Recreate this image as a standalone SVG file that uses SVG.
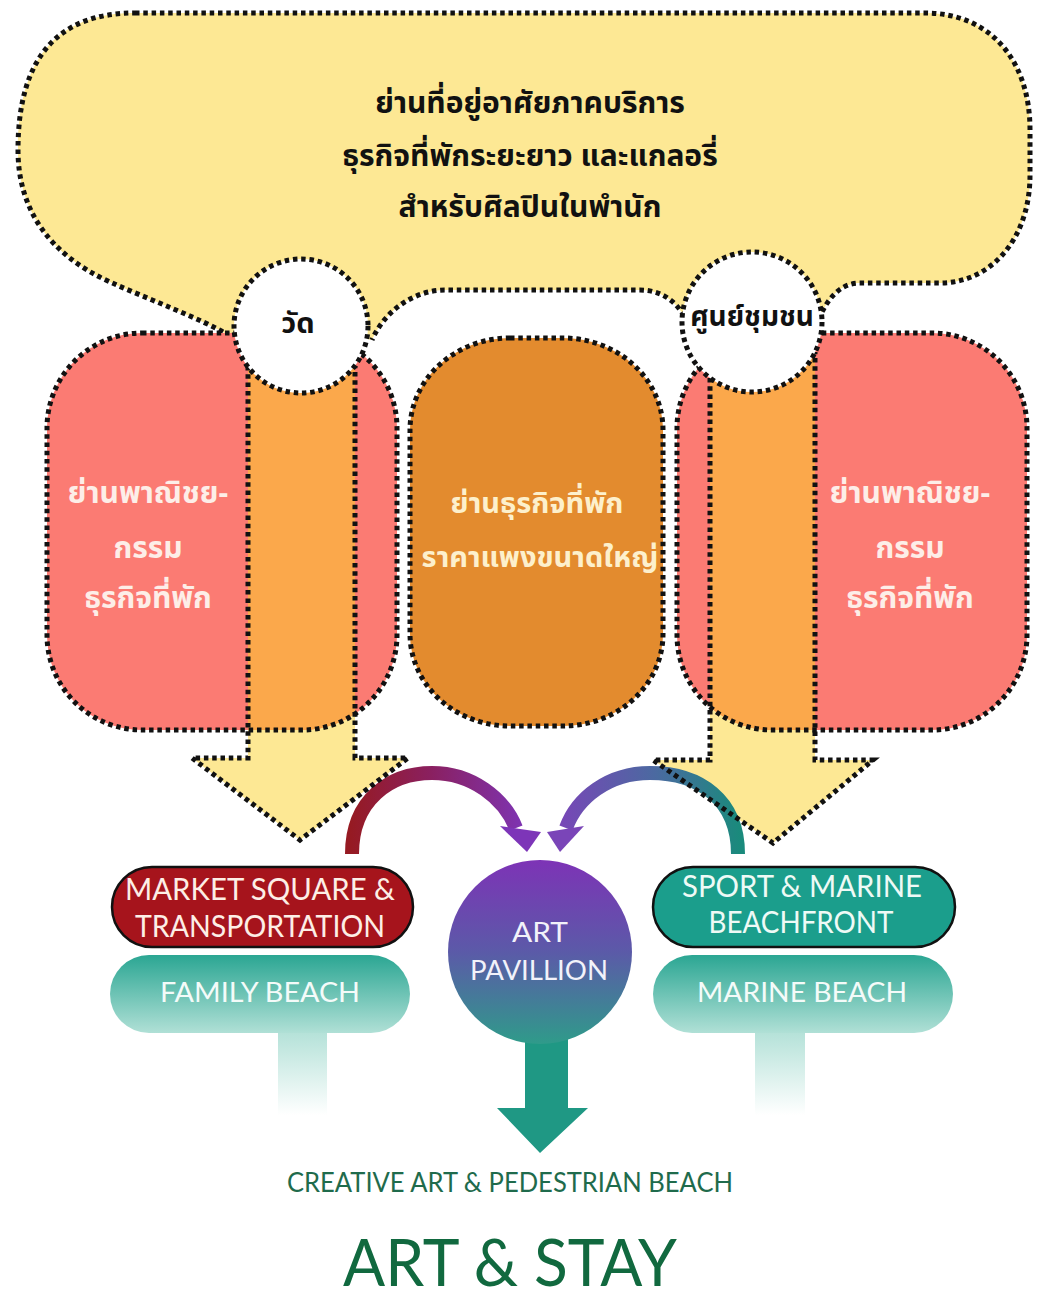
<svg xmlns="http://www.w3.org/2000/svg" width="1045" height="1300" viewBox="0 0 1045 1300">
<style>
.dot{fill:none;stroke:#111;stroke-width:5;stroke-dasharray:4.5 3.8}
.th{font-family:'Noto Sans Thai','Noto Sans','DejaVu Sans',sans-serif;font-weight:bold;text-anchor:middle}
.en{font-family:Lato,'Open Sans',sans-serif;text-anchor:middle}
</style>
<defs>
<clipPath id="clipL"><rect x="47" y="333" width="350" height="397" rx="95"/></clipPath>
<clipPath id="clipR"><rect x="677" y="333" width="350" height="397" rx="95"/></clipPath>
<linearGradient id="gArcL" gradientUnits="userSpaceOnUse" x1="350" y1="0" x2="530" y2="0"><stop offset="0" stop-color="#961a22"/><stop offset="0.45" stop-color="#8a2060"/><stop offset="1" stop-color="#7d35b8"/></linearGradient>
<linearGradient id="gArcR" gradientUnits="userSpaceOnUse" x1="740" y1="0" x2="555" y2="0"><stop offset="0" stop-color="#1a8a7c"/><stop offset="0.45" stop-color="#4a6aa0"/><stop offset="1" stop-color="#7a45b8"/></linearGradient>
<linearGradient id="gPill" x1="0" y1="0" x2="0" y2="1"><stop offset="0" stop-color="#2ba693"/><stop offset="1" stop-color="#b0e0d6"/></linearGradient>
<linearGradient id="gStem" x1="0" y1="0" x2="0" y2="1"><stop offset="0" stop-color="#aedfd5"/><stop offset="1" stop-color="#ffffff"/></linearGradient>
<linearGradient id="gArt" x1="0" y1="0" x2="0" y2="1"><stop offset="0" stop-color="#7d33b6"/><stop offset="0.5" stop-color="#5b5aa8"/><stop offset="1" stop-color="#2f9b8a"/></linearGradient>
</defs>

<g id="residential-zone">
<path d="M135 13 L925 13 C990 13 1030 60 1030 130 L1030 175 C1030 240 990 283 940 283 L860 283 C845 283 832 292 822 312 L752 322 L684 316 C675 300 660 290 640 290 L445 290 C415 290 385 310 372 340 L301 326 L230 336 C200 318 150 300 110 282 C50 255 18 210 18 150 C18 55 60 13 135 13 Z" fill="#fde894"/>
<path class="dot" d="M135 13 L925 13 C990 13 1030 60 1030 130 L1030 175 C1030 240 990 283 940 283 L860 283 C845 283 832 292 822 312 M684 316 C675 300 660 290 640 290 L445 290 C415 290 385 310 372 340 M230 336 C200 318 150 300 110 282 C50 255 18 210 18 150 C18 55 60 13 135 13"/>
<text class="th" x="530" y="113" font-size="30" fill="#111">ย่านที่อยู่อาศัยภาคบริการ</text>
<text class="th" x="530" y="166" font-size="30" fill="#111">ธุรกิจที่พักระยะยาว และแกลอรี่</text>
<text class="th" x="530" y="217" font-size="30" fill="#111">สำหรับศิลปินในพำนัก</text>
</g>

<g id="arrow-fills">
<path d="M248 340 L355 340 L355 758 L408 758 L300 840 L192 758 L248 758 Z" fill="#fde894"/>
<path d="M710 340 L815 340 L815 760 L873 760 L773 843 L653 760 L710 760 Z" fill="#fde894"/>
</g>

<g id="commercial-left">
<rect x="47" y="333" width="350" height="397" rx="95" fill="#fb7b73"/>
<rect x="248" y="330" width="107" height="410" fill="#fba84b" clip-path="url(#clipL)"/>
<rect class="dot" x="47" y="333" width="350" height="397" rx="95"/>
<text class="th" font-size="30" fill="#fdeee8"><tspan x="148" y="503">ย่านพาณิชย-</tspan><tspan x="148" y="558">กรรม</tspan><tspan x="148" y="608">ธุรกิจที่พัก</tspan></text>
</g>

<g id="hotel-center">
<rect x="410" y="338" width="253" height="388" rx="100" ry="92" fill="#e38b2e"/>
<rect class="dot" x="410" y="338" width="253" height="388" rx="100" ry="92"/>
<text class="th" font-size="29" fill="#fdf0cc"><tspan x="537" y="513">ย่านธุรกิจที่พัก</tspan><tspan x="540" y="567">ราคาแพงขนาดใหญ่</tspan></text>
</g>

<g id="commercial-right">
<rect x="677" y="333" width="350" height="397" rx="95" fill="#fb7b73"/>
<rect x="710" y="330" width="105" height="410" fill="#fba84b" clip-path="url(#clipR)"/>
<rect class="dot" x="677" y="333" width="350" height="397" rx="95"/>
<text class="th" font-size="30" fill="#fdeee8"><tspan x="910" y="503">ย่านพาณิชย-</tspan><tspan x="910" y="558">กรรม</tspan><tspan x="910" y="608">ธุรกิจที่พัก</tspan></text>
</g>

<g id="connectors">
<path d="M352 854 C352 800 390 773 432 773 C472 773 504 798 516 828" fill="none" stroke="url(#gArcL)" stroke-width="14"/>
<polygon points="500,826 541,832 527,852" fill="#7d35b8"/>
<path d="M738 854 C738 800 700 773 650 773 C608 773 577 798 566 828" fill="none" stroke="url(#gArcR)" stroke-width="14"/>
<polygon points="547,832 584,826 560,852" fill="#7a45b8"/>
</g>

<g id="arrow-outlines">
<path class="dot" d="M248 366 L248 758 L192 758 L300 840 L408 758 L355 758 L355 366"/>
<path class="dot" d="M710 378 L710 760 L653 760 L773 843 L873 760 L815 760 L815 352"/>
</g>

<g id="temple">
<circle cx="301" cy="326" r="67" fill="#fff"/>
<circle class="dot" cx="301" cy="326" r="67"/>
<text class="th" x="298" y="333" font-size="29" fill="#111">วัด</text>
</g>

<g id="community-center">
<circle cx="752" cy="322" r="70" fill="#fff"/>
<circle class="dot" cx="752" cy="322" r="70"/>
<text class="th" x="752" y="326" font-size="28" fill="#111">ศูนย์ชุมชน</text>
</g>

<g id="market-square">
<rect x="112" y="867" width="301" height="80" rx="40" fill="#a6141c" stroke="#111" stroke-width="2.5"/>
<text class="en" font-size="31" fill="#fdeee6"><tspan x="260" y="900" textLength="270" lengthAdjust="spacingAndGlyphs">MARKET SQUARE &amp;</tspan><tspan x="260" y="937" textLength="250" lengthAdjust="spacingAndGlyphs">TRANSPORTATION</tspan></text>
</g>

<g id="family-beach">
<rect x="278" y="1025" width="49" height="90" fill="url(#gStem)"/>
<rect x="110" y="955" width="300" height="78" rx="39" fill="url(#gPill)"/>
<text class="en" x="260" y="1002" font-size="27" fill="#f4fbf9" textLength="200" lengthAdjust="spacingAndGlyphs">FAMILY BEACH</text>
</g>

<g id="sport-marine">
<rect x="653" y="867" width="302" height="80" rx="40" fill="#1b9e8c" stroke="#111" stroke-width="2.5"/>
<text class="en" font-size="30" fill="#eefaf6"><tspan x="802" y="897" textLength="240" lengthAdjust="spacingAndGlyphs">SPORT &amp; MARINE</tspan><tspan x="801" y="933" textLength="185" lengthAdjust="spacingAndGlyphs">BEACHFRONT</tspan></text>
</g>

<g id="marine-beach">
<rect x="755" y="1025" width="50" height="90" fill="url(#gStem)"/>
<rect x="653" y="955" width="300" height="78" rx="39" fill="url(#gPill)"/>
<text class="en" x="802" y="1002" font-size="27" fill="#f4fbf9" textLength="210" lengthAdjust="spacingAndGlyphs">MARINE BEACH</text>
</g>

<g id="art-pavillion">
<path d="M525 1030 L568 1030 L568 1108 L588 1108 L540 1153 L497 1108 L525 1108 Z" fill="#1f9884"/>
<circle cx="540" cy="952" r="92" fill="url(#gArt)"/>
<text class="en" font-size="27" fill="#f2f2fa"><tspan x="540" y="942" textLength="56" lengthAdjust="spacingAndGlyphs">ART</tspan><tspan x="539" y="980" textLength="138" lengthAdjust="spacingAndGlyphs">PAVILLION</tspan></text>
</g>

<g id="creative-beach">
<text class="en" x="510" y="1192" font-size="27" fill="#1f6b4c" textLength="446" lengthAdjust="spacingAndGlyphs">CREATIVE ART &amp; PEDESTRIAN BEACH</text>
</g>

<g id="title">
<text class="en" x="510" y="1286" font-size="66" fill="#11693f" textLength="334" lengthAdjust="spacingAndGlyphs">ART &amp; STAY</text>
</g>
</svg>
